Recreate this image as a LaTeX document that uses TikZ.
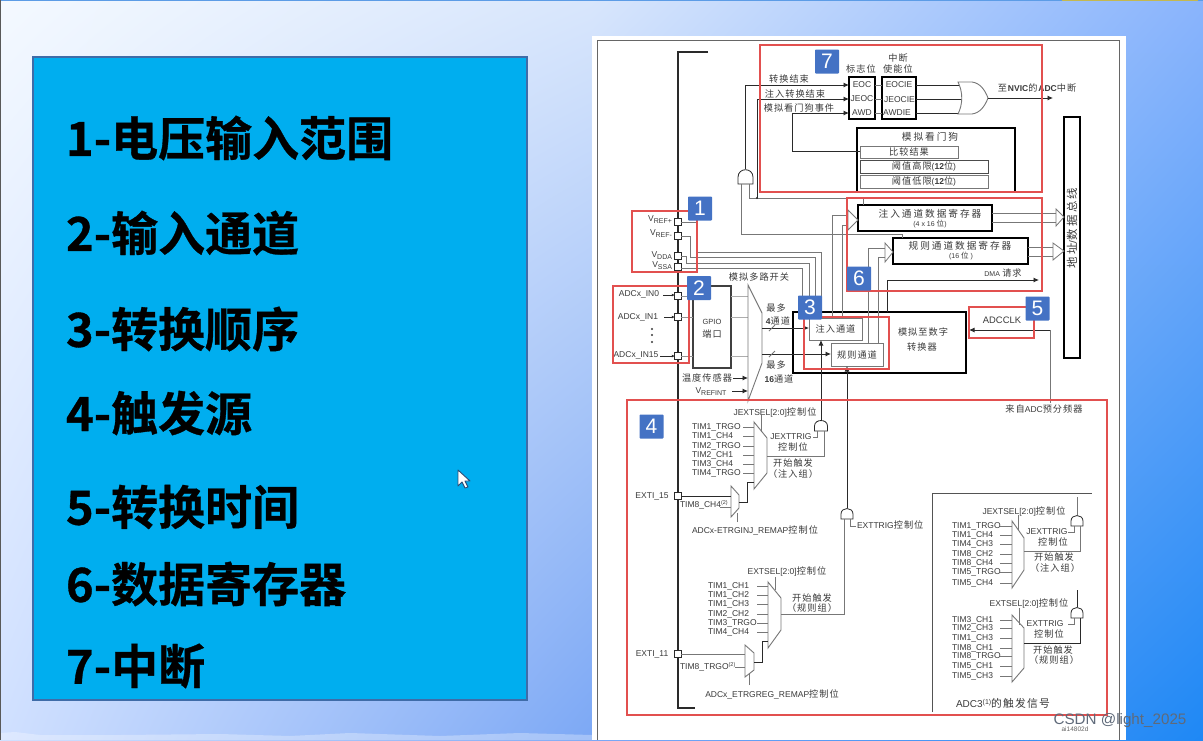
\documentclass[tikz,border=0pt]{standalone}
\usepackage{fontspec}
\setmainfont{Liberation Sans}
\newfontfamily\cjkf[Scale=1.08,LetterSpace=11]{Noto Sans CJK SC}
\newfontfamily\cjkw[Scale=1.14,LetterSpace=20]{Noto Sans CJK SC}
\newfontfamily\cjkb[FakeBold=0.7]{Noto Sans CJK SC Bold}
\usetikzlibrary{arrows.meta,shadings}
\newcommand\zh[1]{{\cjkf #1}}
\newcommand\zw[1]{{\cjkw #1}}
\definecolor{txt}{HTML}{3A3A3A}
\definecolor{wgray}{HTML}{777777}
\definecolor{wdark}{HTML}{2A2A2A}
\definecolor{redbox}{HTML}{E2504F}
\definecolor{badgeblue}{HTML}{4472C4}
\definecolor{panelblue}{HTML}{00AEEF}
\definecolor{panelline}{HTML}{3F6CA8}
\definecolor{bga}{RGB}{244,249,255}
\definecolor{bgb}{RGB}{216,230,252}
\definecolor{bgc}{RGB}{208,224,255}
\definecolor{bgd}{RGB}{124,168,245}
\definecolor{bge}{RGB}{138,180,252}
\definecolor{bgf}{RGB}{30,136,245}
\definecolor{topline}{HTML}{5C9CE6}
\definecolor{topyellow}{HTML}{C4B850}
\definecolor{markgray}{HTML}{5F6A7A}
\tikzset{
  lab/.style={font=\fontsize{8.5}{10.5}\selectfont,text=txt,inner sep=0pt,outer sep=0pt,align=center},
  wire/.style={draw=wgray,line width=.8pt},
  dwire/.style={draw=wdark,line width=.9pt},
  tbox/.style={draw=black,line width=1.3pt,fill=white},
  gbox/.style={draw=wgray,line width=.9pt,fill=white},
  redframe/.style={draw=redbox,line width=1.5pt},
  hollowtip/.style={draw=wgray,line width=.8pt,fill=white,line join=miter},
  muxshape/.style={draw=wgray,line width=.9pt,fill=white},
  gateshape/.style={draw=wdark,line width=.8pt,fill=white},
  pinbox/.style={draw=wdark,line width=.7pt,fill=white,minimum size=6.5pt,inner sep=0pt,outer sep=0pt},
  badge/.style={fill=badgeblue,text=white,font=\fontsize{21}{21}\selectfont,inner sep=0pt,outer sep=0pt,rounded corners=.8pt,minimum width=24pt,minimum height=24pt},
  listitem/.style={font=\cjkb\fontsize{47}{50}\selectfont,text=black,anchor=west,inner sep=0pt,outer sep=0pt}
}
\newcommand\bx[7]{%
  \pgfmathsetmacro\bxw{#4-(#2)}\pgfmathsetmacro\bxh{#5-(#3)}%
  \node[#6,minimum width=\bxw pt,minimum height=\bxh pt,inner sep=0pt,outer sep=0pt,anchor=north west,font=\fontsize{8.5}{10.5}\selectfont,text=txt,align=center] (#1) at (#2,#3) {#7};}
\newcommand\lb[4]{\node[lab] (#1) at (#2,#3) {#4};}
\newcommand\lw[4]{\node[lab,anchor=west] (#1) at (#2,#3) {#4};}
\newcommand\gate[5]{%
  \coordinate (#1-t) at (#2,#3);
  \coordinate (#1-l) at ({#2-#4/4},{#3+#5});
  \coordinate (#1-r) at ({#2+#4/4},{#3+#5});
  \draw[gateshape] ({#2-#4/2},{#3+#5}) -- ({#2-#4/2},{#3+#5*.55}) .. controls ({#2-#4/2},{#3-#5*.12}) and ({#2+#4/2},{#3-#5*.12}) .. ({#2+#4/2},{#3+#5*.55}) -- ({#2+#4/2},{#3+#5}) -- cycle;}
\newcommand\mux[7]{%
  \coordinate (#1-nw) at (#2,#4);\coordinate (#1-ne) at (#3,#5);
  \coordinate (#1-se) at (#3,#6);\coordinate (#1-sw) at (#2,#7);
  \draw[muxshape] (#1-nw) -- (#1-ne) -- (#1-se) -- (#1-sw) -- cycle;}
\newcommand\sbs[1]{\raisebox{-2pt}{\fontsize{7}{7}\selectfont #1}}
\newcommand\sups[1]{\raisebox{2.5pt}{\fontsize{5.5}{5.5}\selectfont #1}}
\begin{document}
\begin{tikzpicture}[x=1pt,y=-1pt,>={Latex[length=5.5pt,width=5pt]}]
\useasboundingbox (0,0) rectangle (1203,740);
% ---------- slide background
\shade[shading=bilinear interpolation,upper left=bga,upper right=bgb,lower left=bgc,lower right=bgd] (0,0) rectangle (592.5,740);
\shade[shading=bilinear interpolation,upper left=bgb,upper right=bge,lower left=bgd,lower right=bgf] (592,0) rectangle (1203,740);
\fill[white,opacity=.3] (0,733) -- (15,732) -- (40,735) -- (120,735) -- (220,734) -- (290,736) -- (350,733) -- (440,736) -- (520,733) -- (592,735) -- (592,740) -- (0,740) -- cycle;
\fill[topline] (0,0) rectangle (1203,1);
\fill[topyellow] (1062,0) rectangle (1198,1.3);
\fill[black!65] (0,0) rectangle (1,740);
% ---------- left panel
\bx{panel}{33}{57}{527}{700}{fill=panelblue,draw=panelline,line width=2.6pt}{}
\foreach \nn/\yy/\ttx in {i1/138/1-电压输入范围,i2/233/2-输入通道,i3/329/3-转换顺序,i4/413/4-触发源,i5/507/5-转换时间,i6/584/6-数据寄存器,i7/666/7-中断}
  \node[listitem] (\nn) at (66,\yy) {\ttx};
\path[fill=white,draw=panelline!70!black,line width=.9pt,line join=round] (458,470) -- (458,486) -- (462,482) -- (465,488) -- (468,487) -- (465,481) -- (470,481) -- cycle;
% ---------- document sheet
\bx{sheet}{591.5}{35.5}{1126}{740}{fill=white}{}
\draw[draw=black!60,line width=1pt] (597,740) -- (597,40) -- (1119,40) -- (1119,740);
% ---------- boxes
\bx{watch}{857}{128}{1015}{192}{tbox}{}
\bx{cmp}{860}{146}{958}{158}{gbox}{\zh{比较结果}}
\bx{high}{860}{160}{988}{173}{gbox,draw=black!70}{\zh{阈值高限}(\textbf{12}\zh{位})}
\bx{low}{860}{175}{988}{188}{gbox}{\zh{阈值低限}(\textbf{12}\zh{位})}
\bx{flag}{849}{77}{875}{119}{tbox}{}
\bx{ena}{882}{77}{916}{119}{tbox}{}
\bx{addrbus}{1064}{117}{1080}{358}{tbox}{}
\bx{reg1}{858}{205}{992}{231}{tbox}{}
\bx{reg2}{893}{238}{1028}{264}{tbox}{}
\bx{adc}{793}{312}{966}{373}{tbox}{}
\bx{inj}{809}{318}{862}{340}{gbox}{\zh{注入通道}}
\bx{reg}{831}{343}{883}{366}{gbox}{\zh{规则通道}}
\bx{gpio}{693}{286}{731}{368}{gbox,draw=black!75,line width=1.2pt}{}
\bx{adc3}{932}{493}{1092}{712}{}{}
\draw[wgray!70!black,line width=.9pt] (adc3.south west) -- (adc3.north west) -- (adc3.north east);
% ---------- main bus and pins
\coordinate (busA) at (708,52);\coordinate (busB) at (678,52);\coordinate (busC) at (678,708);\coordinate (busD) at (695,708);
\draw[draw=wdark,line width=1.4pt] (busA) -- (busB) -- (busC) -- (busD);
\foreach \nn/\yy in {pref/222,prefm/236,pdda/256,pssa/267,pin0/296,pin1/317,pin15/356,pex15/496,pex11/654}
  \node[pinbox] (\nn) at (678,\yy) {};
% ---------- voltage wires
\coordinate (v1) at (696,252);\coordinate (v2) at (690,257);\coordinate (v3) at (686,263);\coordinate (v4) at (684,268);
\draw[wire] (pref) -| (v1) -- (v1 -| 821,0) -- (821,312);
\draw[wire] (prefm) -| (v2) -- (v2 -| 815,0) -- (815,312);
\draw[wire] (pdda) -| (v3) -- (v3 -| 809,0) -- (809,312);
\draw[wire] (pssa.east |- v4) -- (v4 -| 802,0) -- (802,312);
% ---------- input wires
\foreach \pp in {pin0,pin1,pin15} {
  \draw[wire,draw=wgray!80] (\pp) -- (gpio.west |- \pp);
  \draw[wire,draw=wgray!60] (gpio.east |- \pp) -- (748,0 |- \pp);
}
\mux{amux}{748}{762}{285}{313}{363}{401}
\coordinate (a1) at (inj.west |- 0,328);\coordinate (a2) at (reg.west |- 0,354);
\draw[wire,->,draw=wdark] (amux-ne |- a1) -- (a1);
\draw[wire,->,draw=wdark] (amux-ne |- a2) -- (a2);
\draw[wire] (769,331) -- (775,325);\draw[wire] (769,357) -- (775,351);
\draw[wire,->,draw=wdark] (733,378) -- (748,378);
\draw[wire,->,draw=wdark] (732,391) -- (748,391);
% ---------- small pin arrows
\coordinate (s1) at (663,295);\coordinate (s2) at (664,317);\coordinate (s3) at (660,356);
\draw[wire,->,draw=wdark,>={Latex[length=3pt,width=3pt]}] (s1) -- (pin0.west |- s1);
\draw[wire,->,draw=wdark,>={Latex[length=3pt,width=3pt]}] (s2) -- (pin1.west |- s2);
\draw[wire,->,draw=wdark,>={Latex[length=3pt,width=3pt]}] (s3) -- (pin15.west |- s3);
% ---------- flags and interrupt
\coordinate (f1) at (flag.west |- 0,85);\coordinate (f2) at (flag.west |- 0,99);\coordinate (f3) at (flag.west |- 0,113);
\gate{ga}{745.5}{169}{15}{15}
\coordinate (ibus) at (863,198);\coordinate (rbus) at (902,234);\coordinate (dot) at (757,198);
\draw[wire,->,draw=wdark] (ga-t) |- (f1);
\draw[wire] (ga-r) |- (ibus) -- (reg1.north -| ibus);
\draw[wire] (ga-l) |- (rbus) -- (reg2.north -| rbus);
\fill[wdark] (dot) circle (1.2);
\draw[wire,->,draw=wdark] (dot) |- (f2);
\coordinate (w1) at (792,151);
\draw[wire,->,draw=wdark] (cmp.west |- w1) -- (w1) |- (f3);
\foreach \yy in {85,99,113} {
  \draw[wire] (flag.east |- 0,\yy) -- (ena.west |- 0,\yy);
  \draw[wire,draw=wdark] (ena.east |- 0,\yy) -- (962,\yy);
}
\coordinate (orout) at (988,98);\coordinate (nvic) at (1053,98);
\path[fill=white,draw=wgray,line width=.9pt] (958,82) -- (972,82) .. controls (980,83) and (985,90) .. (orout) .. controls (985,106) and (980,113) .. (972,114) -- (958,114) .. controls (963,104) and (963,92) .. (958,82) -- cycle;
\draw[wire,->,draw=wdark] (orout) -- (nvic);
% ---------- data register wires
\draw[wire] (reg1.east |- 0,213) -- (1056,213);\draw[wire] (reg1.east |- 0,222) -- (1056,222);
\draw[wire] (reg2.east |- 0,247) -- (1053,247);\draw[wire] (reg2.east |- 0,256) -- (1053,256);
\path[hollowtip] (1056,209) -- (addrbus.west |- 0,217) -- (1056,226) -- (1056,222) -- (1056,213) -- cycle;
\path[hollowtip] (1053,243) -- (addrbus.west |- 0,251) -- (1053,260) -- (1053,256) -- (1053,247) -- cycle;
\draw[wire] (832,318) -- (832,215) -- (848,215);\draw[wire] (842,318) -- (842,225) -- (848,225);
\path[hollowtip] (848,210) -- (reg1.west |- 0,220) -- (848,230) -- cycle;
\draw[wire] (868,343) -- (868,248) -- (885,248);\draw[wire] (878,343) -- (878,257) -- (885,257);
\path[hollowtip] (885,243) -- (reg2.west |- 0,252) -- (885,262) -- cycle;
\coordinate (dmaend) at (1039,280);
\draw[wire,->,draw=wdark] (adc.north -| 887,0) |- (dmaend);
\coordinate (clkb) at (1050,403);\coordinate (clkt) at (1050,330);\coordinate (clke) at (969,330);
\draw[wire] (clkb) -- (clkt);
\draw[wire,->,draw=wdark] (clkt) -- (clke);
% ---------- injected trigger chain
\mux{mj}{754}{767}{422}{438}{473}{489}
\mux{mj2}{731}{739}{486}{495}{508}{517}
\gate{gj}{821}{420}{13}{11}
\gate{ge}{847}{508}{12}{11}
\draw[wire,->,draw=wdark] (gj-t) -- (inj.south -| gj-t);
\draw[wire,->,draw=wdark] (ge-t) -- (reg.south -| ge-t);
\foreach \nn/\yy/\ttx in {1/427/TIM1\_TRGO,2/436/TIM1\_CH4,3/446/TIM2\_TRGO,4/455/TIM2\_CH1,5/464/TIM3\_CH4,6/473/TIM4\_TRGO} {
  \lw{ja\nn}{692}{\yy}{\ttx}
  \coordinate (jb\nn) at (743,\yy);
  \draw[wire] (jb\nn) -- (mj-nw |- jb\nn);
}
\coordinate (js) at (761,415);\draw[wire] (js) -- (761,432);
\coordinate (jo) at (767,456);
\draw[wire] (jo) -| (gj-r);
\coordinate (jt) at (813,437);\draw[wire] (jt) -| (gj-l);
\draw[wire,draw=wdark] (pex15) -- (mj2-nw |- pex15);
\coordinate (j8) at (720,507);\draw[wire] (j8) -- (mj2-nw |- j8);
\coordinate (jm1) at (747,502);\coordinate (jm2) at (747,482);
\draw[wire,draw=wdark] (mj2-ne |- jm1) -- (jm1) -- (jm2) -- (mj-nw |- jm2);
\coordinate (js2) at (737,522);\draw[wire] (js2) -- (737,513);
% ---------- regular trigger chain
\mux{mr}{768}{781}{582}{598}{630}{648}
\mux{mr2}{745}{754}{645}{653}{670}{677}
\foreach \nn/\yy/\ttx in {1/586/TIM1\_CH1,2/595/TIM1\_CH2,3/604/TIM1\_CH3,4/614/TIM2\_CH2,5/623/TIM3\_TRGO,6/632/TIM4\_CH4} {
  \lw{ra\nn}{708}{\yy}{\ttx}
  \coordinate (rb\nn) at (757,\yy);
  \draw[wire] (rb\nn) -- (mr-nw |- rb\nn);
}
\coordinate (rs) at (775,577);\draw[wire] (rs) -- (775,590);
\coordinate (ro) at (781,614);
\draw[wire] (ro) -| (ge-l);
\coordinate (rt) at (856,526);\draw[wire] (rt) -| (ge-r);
\draw[wire] (pex11) -- (mr2-nw |- pex11);
\coordinate (r8) at (735,667);\draw[wire] (r8) -- (mr2-nw |- r8);
\coordinate (rm1) at (762,662);\coordinate (rm2) at (762,641);
\draw[wire,draw=wdark] (mr2-ne |- rm1) -- (rm1) -- (rm2) -- (mr-nw |- rm2);
\coordinate (rs2) at (749,685);\draw[wire] (rs2) -- (749,674);
% ---------- ADC3 triggers
\mux{m3a}{1012}{1024}{521}{538}{570}{588}
\mux{m3b}{1012}{1024}{615}{628}{668}{682}
\gate{g3a}{1077}{515}{12}{11}
\gate{g3b}{1077}{607}{12}{11}
\foreach \nn/\yy/\ttx in {1/526/TIM1\_TRGO,2/535/TIM1\_CH4,3/544/TIM4\_CH3,4/554/TIM8\_CH2,5/563/TIM8\_CH4,6/572/TIM5\_TRGO,7/583/TIM5\_CH4} {
  \lw{ca\nn}{952}{\yy}{\ttx}
  \coordinate (cb\nn) at (1000,\yy);
  \draw[wire] (cb\nn) -- (m3a-nw |- cb\nn);
}
\foreach \nn/\yy/\ttx in {1/620/TIM3\_CH1,2/628/TIM2\_CH3,3/638/TIM1\_CH3,4/648/TIM8\_CH1,5/656/TIM8\_TRGO,6/666/TIM5\_CH1,7/676/TIM5\_CH3} {
  \lw{da\nn}{952}{\yy}{\ttx}
  \coordinate (db\nn) at (1000,\yy);
  \draw[wire] (db\nn) -- (m3b-nw |- db\nn);
}
\coordinate (c1) at (1018,515);\draw[wire] (c1) -- (1018,530);
\coordinate (c2) at (1019,608);\draw[wire] (c2) -- (1019,625);
\coordinate (c3) at (1024,551);\draw[wire] (c3) -| (g3a-r);
\coordinate (c4) at (1024,643);\draw[wire,draw=wdark] (c4) -| (g3b-r);
\coordinate (c5) at (1068,532);\draw[wire] (c5) -| (g3a-l);
\coordinate (c6) at (1068,624);\draw[wire] (c6) -| (g3b-l);
\coordinate (c7) at (1077,497);\draw[wire] (c7) -- (g3a-t);
\coordinate (c8) at (1077,590);\draw[wire,draw=wdark] (c8) -- (g3b-t);
% ---------- labels: upper part
\lb{t1}{861}{69}{\zh{标志位}}
\lb{t2}{898}{58}{\zh{中断}}
\lb{t3}{898}{69}{\zh{使能位}}
\lb{t4}{789}{79}{\zh{转换结束}}
\lb{t5}{795}{94}{\zh{注入转换结束}}
\lb{t6}{799}{108}{\zh{模拟看门狗事件}}
\lb{f1t}{862}{85}{EOC}
\lb{f2t}{862}{99}{JEOC}
\lb{f3t}{862}{113}{AWD}
\lb{e1t}{899}{84.5}{EOCIE}
\lb{e2t}{899.5}{100}{JEOCIE}
\lb{e3t}{897}{113}{AWDIE}
\lb{t7}{1037}{88}{\zh{至}\textbf{NVIC}\zh{的}\textbf{ADC}\zh{中断}}
\lb{t8}{930}{137}{\zw{模拟看门狗}}
\node[lab,rotate=90,font=\fontsize{10}{11}\selectfont] (t9) at (1072,228) {\zw{地址}/\zw{数据总线}};
\lb{t10}{930}{214}{\zw{注入通道数据寄存器}}
\node[lab,font=\fontsize{7}{8}\selectfont] (t11) at (930,224) {(4 x 16 \zh{位})};
\lb{t12}{960}{246}{\zw{规则通道数据寄存器}}
\node[lab,font=\fontsize{7}{8}\selectfont] (t13) at (961,256) {(16 \zh{位} )};
\lb{t14}{1003}{273}{{\fontsize{7}{8}\selectfont DMA} \zh{请求}}
\lb{t15}{923}{332}{\zh{模拟至数字}}
\lb{t16}{922}{347}{\zh{转换器}}
\node[lab,font=\fontsize{9.4}{10}\selectfont] (t17) at (1002,320) {ADCCLK};
\lb{t18}{1044}{409}{\zh{来自}ADC\zh{预分频器}}
% ---------- labels: inputs
\node[lab,anchor=east] (v1t) at (672,220) {V\sbs{REF+}};
\node[lab,anchor=east] (v2t) at (672,234) {V\sbs{REF-}};
\node[lab,anchor=east] (v3t) at (672,256) {V\sbs{DDA}};
\node[lab,anchor=east] (v4t) at (672,266) {V\sbs{SSA}};
\lb{in0}{639}{294}{ADCx\_IN0}
\lb{in1}{638}{317}{ADCx\_IN1}
\lb{in15}{636}{355}{ADCx\_IN15}
\foreach \yy in {329,335,342} \fill[txt] (652,\yy) circle (1.1);
\lb{g1t}{712}{322}{\fontsize{7.5}{8}\selectfont GPIO}
\lb{g2t}{712}{334}{\zh{端口}}
\lb{m1t}{759}{277}{\zh{模拟多路开关}}
\lb{m2t}{776}{308}{\zh{最多}}
\lb{m3t}{778}{321}{\textbf{4}\zh{通道}}
\lb{m4t}{776}{365}{\zh{最多}}
\lb{m5t}{779}{379}{\textbf{16}\zh{通道}}
\lb{m6t}{707}{378}{\zh{温度传感器}}
\lb{m7t}{711}{392}{V\sbs{REFINT}}
% ---------- labels: trigger section
\lb{j1}{775}{412}{JEXTSEL[2:0]\zh{控制位}}
\lb{j2}{791}{437}{JEXTTRIG}
\lb{j3}{793}{447}{\zh{控制位}}
\lb{j4}{793}{463}{\zh{开始触发}}
\lb{j5}{793}{474}{\zh{（注入组）}}
\lb{j6}{652}{496}{EXTI\_15}
\lw{j7}{680}{505}{TIM8\_CH4\sups{(2)}}
\lb{j8t}{755}{530}{ADCx-ETRGINJ\_REMAP\zh{控制位}}
\lw{j9}{857}{525}{EXTTRIG\zh{控制位}}
\lb{r1}{787}{571}{EXTSEL[2:0]\zh{控制位}}
\lb{r2}{812}{598}{\zh{开始触发}}
\lb{r3}{812}{608}{\zh{（规则组）}}
\lb{r4}{652}{654}{EXTI\_11}
\lw{r5}{680}{667}{TIM8\_TRGO\sups{(2)}}
\lb{r6}{772}{694}{ADCx\_ETRGREG\_REMAP\zh{控制位}}
\lb{k1}{1024}{511}{JEXTSEL[2:0]\zh{控制位}}
\lb{k2}{1047}{532}{JEXTTRIG}
\lb{k3}{1053}{542}{\zh{控制位}}
\lb{k4}{1054}{557}{\zh{开始触发}}
\lb{k5}{1055}{568}{\zh{（注入组）}}
\lb{k6}{1029}{603}{EXTSEL[2:0]\zh{控制位}}
\lb{k7}{1045}{624}{EXTTRIG}
\lb{k8}{1049}{634}{\zh{控制位}}
\lb{k9}{1053}{650}{\zh{开始触发}}
\lb{k10}{1054}{660}{\zh{（规则组）}}
\node[lab,font=\fontsize{10}{11}\selectfont] (k11) at (1003,703) {ADC3\raisebox{3pt}{\fontsize{7}{7}\selectfont (1)}\zh{的触发信号}};
\node[lab,font=\fontsize{6.5}{7}\selectfont,text=black!60] (k12) at (1075,729) {ai14802d};
% ---------- red frames
\bx{r7}{760}{45}{1042}{192}{redframe}{}
\bx{r6b}{847}{198}{1042}{291}{redframe}{}
\bx{r3b}{804}{317}{889}{369}{redframe}{}
\bx{r5b}{969}{307}{1034}{338}{redframe}{}
\bx{r1b}{632}{211}{697}{272}{redframe}{}
\bx{r2b}{613}{286}{689}{363}{redframe}{}
\bx{r4b}{627}{400}{1107}{715}{redframe}{}
% ---------- badges
\node[badge] (b1) at (700,208.5) {1};
\node[badge] (b2) at (699,288) {2};
\node[badge] (b3) at (810,307.5) {3};
\node[badge] (b4) at (651.5,426.5) {4};
\node[badge] (b5) at (1037.5,308.5) {5};
\node[badge] (b6) at (859,278.5) {6};
\node[badge] (b7) at (827,61.5) {7};
\node[font=\fontsize{15.2}{16}\selectfont,text=markgray,inner sep=0pt] (mark) at (1120,721) {CSDN @light\_2025};
\end{tikzpicture}
\end{document}
